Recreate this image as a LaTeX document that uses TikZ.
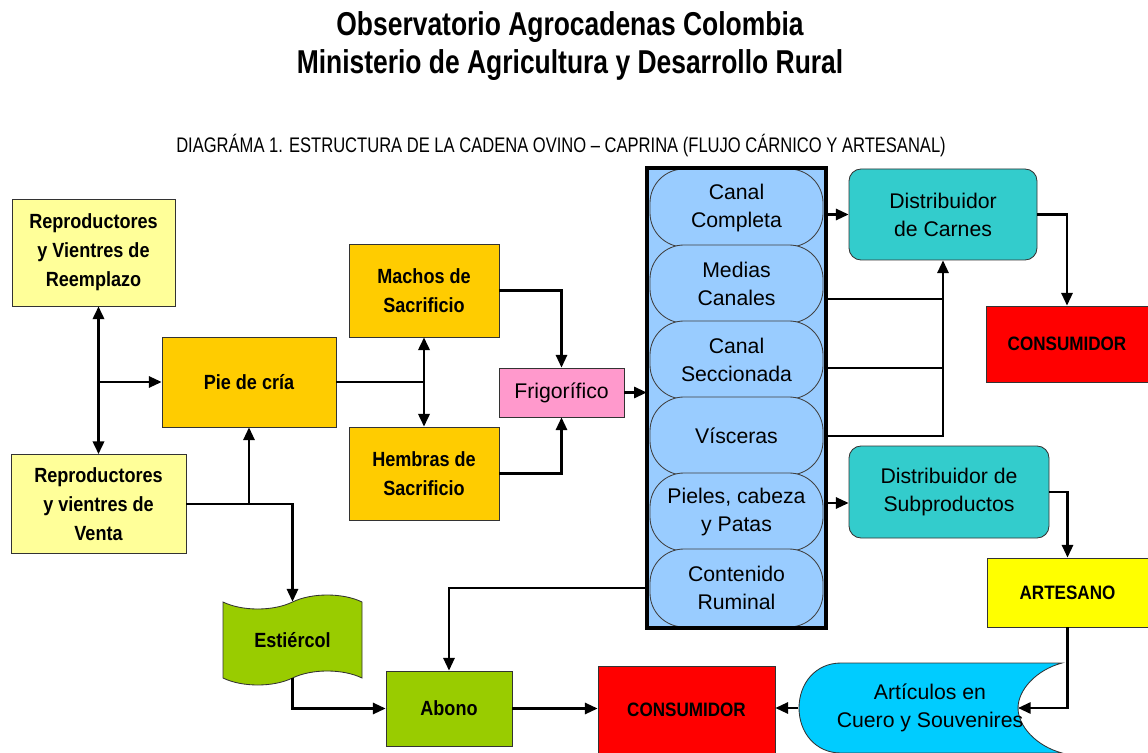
\documentclass[tikz,border=0pt]{standalone}
\usepackage{fontspec}
\setmainfont{Liberation Sans}
\newfontfamily\narrowfont[FakeStretch=0.8]{Liberation Sans}
\newfontfamily\boldnarrow[FakeStretch=0.88]{Liberation Sans}
\newfontfamily\subfont[FakeStretch=0.785]{Liberation Sans}
\usetikzlibrary{arrows.meta,positioning,shapes.symbols,calc}

\definecolor{paleyel}{HTML}{FFFF99}
\definecolor{gold}{HTML}{FFCC00}
\definecolor{rosa}{HTML}{FF99CC}
\definecolor{celeste}{HTML}{99CCFF}
\definecolor{turq}{HTML}{33CCCC}
\definecolor{rojo}{HTML}{FF0000}
\definecolor{amarillo}{HTML}{FFFF00}
\definecolor{verde}{HTML}{99CC00}
\definecolor{cian}{HTML}{00CCFF}

\begin{document}
\begin{tikzpicture}[x=0.025cm, y=-0.025cm,
  sz/.style 2 args={minimum width=#1*0.025cm, minimum height=#2*0.025cm},
  box/.style={rectangle, draw=black!80, line width=0.6pt, align=center, inner sep=2pt},
  bold/.style={font=\boldnarrow\fontsize{14.6pt}{20.5pt}\selectfont\bfseries},
  plain/.style={font=\fontsize{15.1pt}{20pt}\selectfont},
  mayus/.style={font=\boldnarrow\fontsize{13.8pt}{15pt}\selectfont\bfseries},
  cut/.style={rectangle, rounded corners=0.85cm, draw=black!75, line width=0.6pt,
    fill=celeste, align=center, sz={173}{78}, plain},
  dist/.style={box, rounded corners=0.3cm, fill=turq, plain},
  arr/.style={line width=1.5pt, -{Triangle[length=9pt,width=8pt]}},
  dbl/.style={line width=1.8pt, {Triangle[length=9pt,width=8pt]}-{Triangle[length=9pt,width=8pt]}},
  wire/.style={line width=0.8pt}
]
  \useasboundingbox (0,0) rectangle (1148,753);

  % titulos
  \node[font=\narrowfont\fontsize{23.5pt}{27pt}\selectfont\bfseries, align=center] (title) at (570,46)
    {Observatorio Agrocadenas Colombia\\Ministerio de Agricultura y Desarrollo Rural};
  \node[font=\subfont\fontsize{15pt}{18pt}\selectfont] (sub) at (561,146)
    {DIAGRÁMA 1. ESTRUCTURA DE LA CADENA OVINO – CAPRINA (FLUJO CÁRNICO Y ARTESANAL)};

  % produccion
  \node[box, bold, fill=paleyel, sz={163}{107}] (reemp) at (93.5,252.5) {Reproductores\\y Vientres de\\Reemplazo};
  \node[box, bold, fill=paleyel, sz={175}{99}] (venta) at (98.5,504) {Reproductores\\y vientres de\\Venta};
  \node[box, bold, fill=gold, sz={174}{90}] (pie) at (249,382) {Pie de cría};
  \node[box, bold, fill=gold, sz={150}{93}] (machos) at (424,290.5) {Machos de\\Sacrificio};
  \node[box, bold, fill=gold, sz={150}{93}] (hembras) at (424,473.5) {Hembras de\\Sacrificio};
  \node[box, plain, fill=rosa, sz={125}{49}] (frigo) at (561.5,392.5) {Frigorífico};

  % productos del frigorifico
  \node[rectangle, fill=celeste, sz={179}{460}] (col) at (736.5,398) {};
  \foreach \i/\name/\txt in {0/canal/{Canal\\Completa}, 1/medias/{Medias\\Canales},
    2/secc/{Canal\\Seccionada}, 3/visc/{Vísceras}, 4/pieles/{Pieles, cabeza\\y Patas},
    5/rumen/{Contenido\\Ruminal}}
    \node[cut] (\name) at (736.5,{208+76*\i}) {\txt};
  \draw[line width=2.6pt] (col.north west) rectangle (col.south east);

  % distribucion
  \node[dist, sz={188}{91}] (dcarnes) at (943,214.5) {Distribuidor\\de Carnes};
  \node[box, mayus, fill=rojo, sz={162}{76}] (cons1) at (1067,344) {CONSUMIDOR};
  \node[dist, sz={200}{92}] (dsub) at (949,492) {Distribuidor de\\Subproductos};
  \node[box, mayus, fill=amarillo, sz={161}{69}] (artes) at (1067.5,592.5) {ARTESANO};

  % articulos (forma de datos almacenados)
  \draw[draw=black!80, line width=0.6pt, fill=cian] (841,663) -- (1062,663)
    .. controls (1036,670) and (1018,690) .. (1018,708)
    .. controls (1018,726) and (1036,746) .. (1062,753) -- (841,753)
    .. controls (815,753) and (799,732) .. (799,708)
    .. controls (799,684) and (815,663) .. (841,663) -- cycle;
  \node[plain, align=center, sz={263}{90}] (art) at (930,708) {Artículos en\\Cuero y Souvenires};
  \coordinate (artin) at (1018,708);
  \node[box, mayus, fill=rojo, sz={177}{88}] (cons2) at (686.5,710) {CONSUMIDOR};
  \node[box, bold, fill=verde, sz={126}{75}] (abono) at (449,708.5) {Abono};
  \node[tape, draw=black!80, line width=0.6pt, fill=verde, bold, sz={139}{90},
    tape bend height=0.35cm] (est) at (292.5,640) {Estiércol};

  % conexiones
  \draw[dbl] (venta.north |- reemp.south) -- (venta.north);
  \draw[arr] (venta.north |- pie.west) -- (pie.west);
  \draw[wire] (pie.east) -- (pie.east -| machos.south);
  \draw[dbl] (machos.south) -- (hembras.north);
  \draw[arr] (machos.east) -| (frigo.north);
  \draw[arr] (hembras.east) -| (frigo.south);
  \draw[arr] (frigo.east) -- (frigo.east -| col.west);
  \draw[arr] (venta.east) -| (est.north);
  \draw[arr] (pie.south |- venta.east) -- (pie.south);
  \draw[arr] (est.south) |- (abono.west);
  \draw[arr] (abono.east) -- (abono.east -| cons2.west);
  \draw[arr] (col.west |- rumen.west) -| (abono.north);

  \coordinate (mc) at ($(medias.east)+(0,15)$);
  \coordinate (sc) at ($(secc.east)+(0,8)$);
  \coordinate (pc) at ($(pieles.east)+(0,-9)$);
  \draw[arr] (col.east |- dcarnes.west) -- (dcarnes.west);
  \draw[wire] (col.east |- mc) -- (dcarnes.south |- mc);
  \draw[wire] (col.east |- visc.east) -| (dcarnes.south |- sc);
  \draw[arr] (col.east |- sc) -| (dcarnes.south);
  \draw[arr] (col.east |- pc) -- (dsub.west |- pc);
  \draw[arr] (dcarnes.east) -| (cons1.north);
  \draw[arr] (dsub.east) -| (artes.north);
  \draw[arr] (artes.south) |- (artin);
  \draw[arr] (art.west) -- (art.west -| cons2.east);
\end{tikzpicture}
\end{document}
